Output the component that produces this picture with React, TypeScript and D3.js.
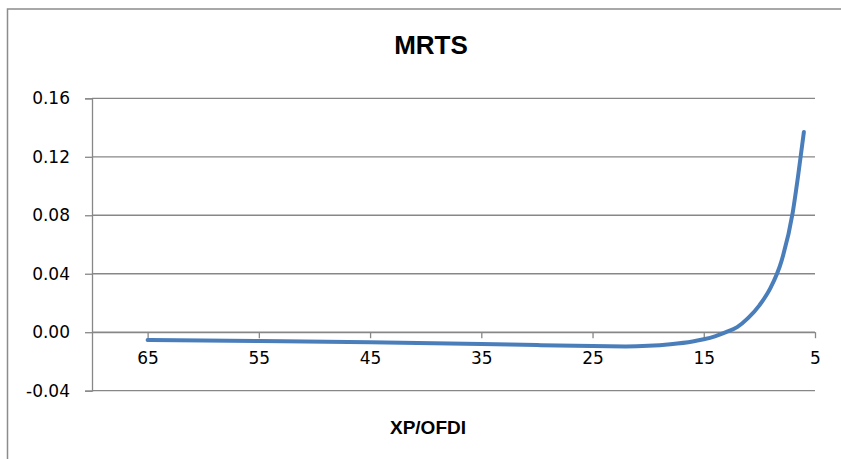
import React, { useEffect, useRef } from 'react';
import * as d3 from 'd3';

// XP/OFDI values (x) and MRTS readings (y)
const xpOfdi = [65, 55, 45, 35, 30, 25, 22, 20, 18, 16, 15, 14, 13, 12, 11, 10, 9, 8, 7, 6.5, 6];
const mrts = [
  -0.0053, -0.006, -0.0068, -0.008, -0.0088, -0.0095, -0.0097, -0.0093, -0.0082, -0.0063,
  -0.0048, -0.0028, 0.0, 0.0035, 0.0098, 0.0184, 0.0303, 0.049, 0.082, 0.108, 0.137,
];
const yTicks = [-0.04, 0, 0.04, 0.08, 0.12, 0.16];
const xTicks = [65, 55, 45, 35, 25, 15, 5];

const W = 841;
const H = 459;

const App: React.FC = () => {
  const svgRef = useRef<SVGSVGElement | null>(null);

  useEffect(() => {
    if (!svgRef.current) return;
    const svg = d3.select(svgRef.current);
    svg.selectAll('*').remove();

    const plot = { left: 92, right: 815, top: 98.3, bottom: 390.7 };
    const grey = '#878787';
    const labelFont = '"DejaVu Sans", sans-serif';

    const x = d3.scaleLinear().domain([70, 5]).range([plot.left, plot.right]);
    const y = d3.scaleLinear().domain([-0.04, 0.16]).range([plot.bottom, plot.top]);

    // chart border (left and top only visible)
    svg.append('path')
      .attr('d', `M7.5,${H + 5} L7.5,9 L${W + 5},9`)
      .attr('fill', 'none')
      .attr('stroke', '#8c8c8c')
      .attr('stroke-width', 1.5);

    // title
    svg.append('text')
      .attr('x', 431)
      .attr('y', 53.5)
      .attr('text-anchor', 'middle')
      .style('font-family', '"Liberation Sans", Arial, sans-serif')
      .style('font-weight', 'bold')
      .style('font-size', '26px')
      .text('MRTS');

    // horizontal gridlines
    svg.append('g')
      .selectAll('line')
      .data(yTicks)
      .enter()
      .append('line')
      .attr('x1', plot.left)
      .attr('x2', plot.right)
      .attr('y1', d => y(d))
      .attr('y2', d => y(d))
      .attr('stroke', grey)
      .attr('stroke-width', 1.3);

    // y axis (plain hyphen for negatives, like Excel)
    const fmtY = (d: d3.NumberValue) => (+d).toFixed(2);
    const yAxis = svg.append('g')
      .attr('transform', `translate(${plot.left},0)`)
      .call(d3.axisLeft(y).tickValues(yTicks).tickSize(7).tickPadding(15).tickFormat(fmtY));
    yAxis.select('.domain').attr('stroke', grey).attr('stroke-width', 1.3);
    yAxis.selectAll('.tick line').attr('stroke', grey).attr('stroke-width', 1.3);
    yAxis.selectAll('text')
      .attr('fill', '#000')
      .style('font-family', labelFont)
      .style('font-size', '17px');

    // x axis crossing at 0
    const xAxis = svg.append('g')
      .attr('transform', `translate(0,${y(0)})`)
      .call(d3.axisBottom(x).tickValues(xTicks).tickSize(6).tickSizeOuter(0).tickPadding(14).tickFormat(d3.format('d')));
    xAxis.select('.domain').attr('stroke', grey).attr('stroke-width', 1.3);
    xAxis.selectAll('.tick line').attr('stroke', grey).attr('stroke-width', 1.3);
    xAxis.selectAll('text')
      .attr('fill', '#000')
      .style('font-family', labelFont)
      .style('font-size', '17px');

    // MRTS line
    const pts = xpOfdi.map((v, i) => ({ x: v, y: mrts[i] }));
    const line = d3.line<{ x: number; y: number }>()
      .x(d => x(d.x))
      .y(d => y(d.y))
      .curve(d3.curveMonotoneX);

    svg.append('path')
      .datum(pts)
      .attr('fill', 'none')
      .attr('stroke', '#4a7ebb')
      .attr('stroke-width', 4)
      .attr('stroke-linecap', 'round')
      .attr('stroke-linejoin', 'round')
      .attr('d', line);

    // axis title
    svg.append('text')
      .attr('x', 428)
      .attr('y', 434)
      .attr('text-anchor', 'middle')
      .style('font-family', '"Liberation Sans", Arial, sans-serif')
      .style('font-weight', 'bold')
      .style('font-size', '19px')
      .text('XP/OFDI');
  }, []);

  return (
    <div style={{ position: 'absolute', left: 0, top: 0 }}>
      <svg ref={svgRef} width={W} height={H} style={{ display: 'block', background: '#fff' }} />
    </div>
  );
};

export default App;
